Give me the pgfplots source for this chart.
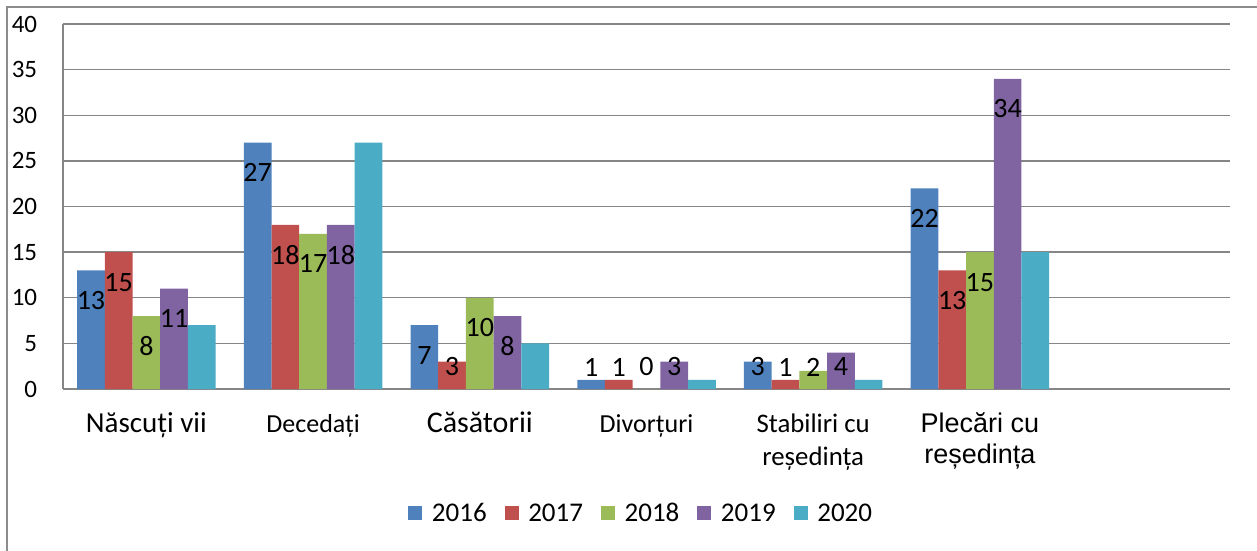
\documentclass[border=0pt]{standalone}
\usepackage{fontspec}
\setmainfont{Carlito}
\newfontfamily\arialf{Liberation Sans}
\usepackage{pgfplots}
\pgfplotsset{compat=1.18}
\definecolor{c16}{HTML}{4F81BD}
\definecolor{c17}{HTML}{C0504D}
\definecolor{c18}{HTML}{9BBB59}
\definecolor{c19}{HTML}{8064A2}
\definecolor{c20}{HTML}{4BACC6}
\definecolor{gridc}{HTML}{868686}
\definecolor{framec}{HTML}{8C8C8C}

% two centred lines, baseline on the first one
\newcommand\twoline[2]{\vtop{\halign{\hfil##\hfil\cr#1\cr#2\cr}}}

% data labels: inside the top of the bar, pushed up for short bars
\pgfplotsset{lbl/.style={
  nodes near coords={\pgfmathprintnumber{\pgfplotspointmeta}},
  visualization depends on={y \as \rawy},
  nodes near coords style={font=\fontsize{14}{14}\selectfont, anchor=center,
    inner sep=0pt, text=black, yshift={-1pt*min(15,\rawy*4.5625-11)}}}}

\begin{document}
\begin{tikzpicture}
\begin{axis}[
  name=ax, at={(0,0)}, anchor=south west,
  scale only axis, width=583.5pt, height=182.5pt,
  ybar=0pt, bar width=13.85pt,
  xmin=-0.5, xmax=6.5, ymin=0, ymax=40,
  xtick={0,...,5}, ytick={0,5,...,40},
  xticklabels={
    {\fontsize{14.5}{16}\selectfont Născuți vii},
    {\fontsize{13}{15}\selectfont Decedați},
    {\fontsize{15}{16}\selectfont Căsătorii},
    {\fontsize{13}{15}\selectfont Divorțuri},
    {\fontsize{13.4}{16.5}\selectfont\twoline{Stabiliri cu}{reședința}},
    {\arialf\fontsize{13.5}{15.5}\selectfont\twoline{Plecări cu}{reședința}},
  },
  axis x line=bottom, axis y line=left,
  axis line style={draw=gridc, line width=0.7pt, -},
  ymajorgrids, grid style={draw=gridc, line width=0.7pt},
  major tick length=0pt,
  /pgf/number format/assume math mode=true,
  yticklabel style={font=\fontsize{12.5}{14}\selectfont, anchor=east, inner sep=0pt, xshift=-12.75pt},
  xticklabel style={anchor=base, inner sep=0pt, yshift=-21.5pt},
  legend columns=5,
  legend style={draw=none, fill=none, at={(0.2956,-0.3425)}, anchor=west, inner sep=0pt,
    font=\fontsize{13.5}{14}\selectfont,
    /tikz/every even column/.append style={column sep=7pt},
    /tikz/every odd column/.append style={column sep=2.8pt}},
  every axis plot/.append style={draw=none,
    legend image code/.code={\fill[##1] (0pt,-3.2pt) rectangle (7pt,3.8pt);}},
]
\addplot[fill=c16, lbl] coordinates {(0,13) (1,27) (2,7) (3,1) (4,3) (5,22)};
\addplot[fill=c17, lbl] coordinates {(0,15) (1,18) (2,3) (3,1) (4,1) (5,13)};
\addplot[fill=c18, lbl] coordinates {(0,8) (1,17) (2,10) (3,0) (4,2) (5,15)};
\addplot[fill=c19, lbl] coordinates {(0,11) (1,18) (2,8) (3,3) (4,4) (5,34)};
\addplot[fill=c20] coordinates {(0,7) (1,27) (2,5) (3,1) (4,1) (5,15)};
\legend{2016,2017,2018,2019,2020}
\end{axis}
\draw[framec, line width=0.6pt] ([xshift=-28pt,yshift=-81pt]ax.south west) |- ([xshift=14pt,yshift=8.5pt]ax.north east);
\pgfresetboundingbox
\path[use as bounding box] ([xshift=-31.5pt,yshift=-80.5pt]ax.south west) rectangle ([xshift=13.5pt,yshift=12pt]ax.north east);
\end{tikzpicture}
\end{document}
